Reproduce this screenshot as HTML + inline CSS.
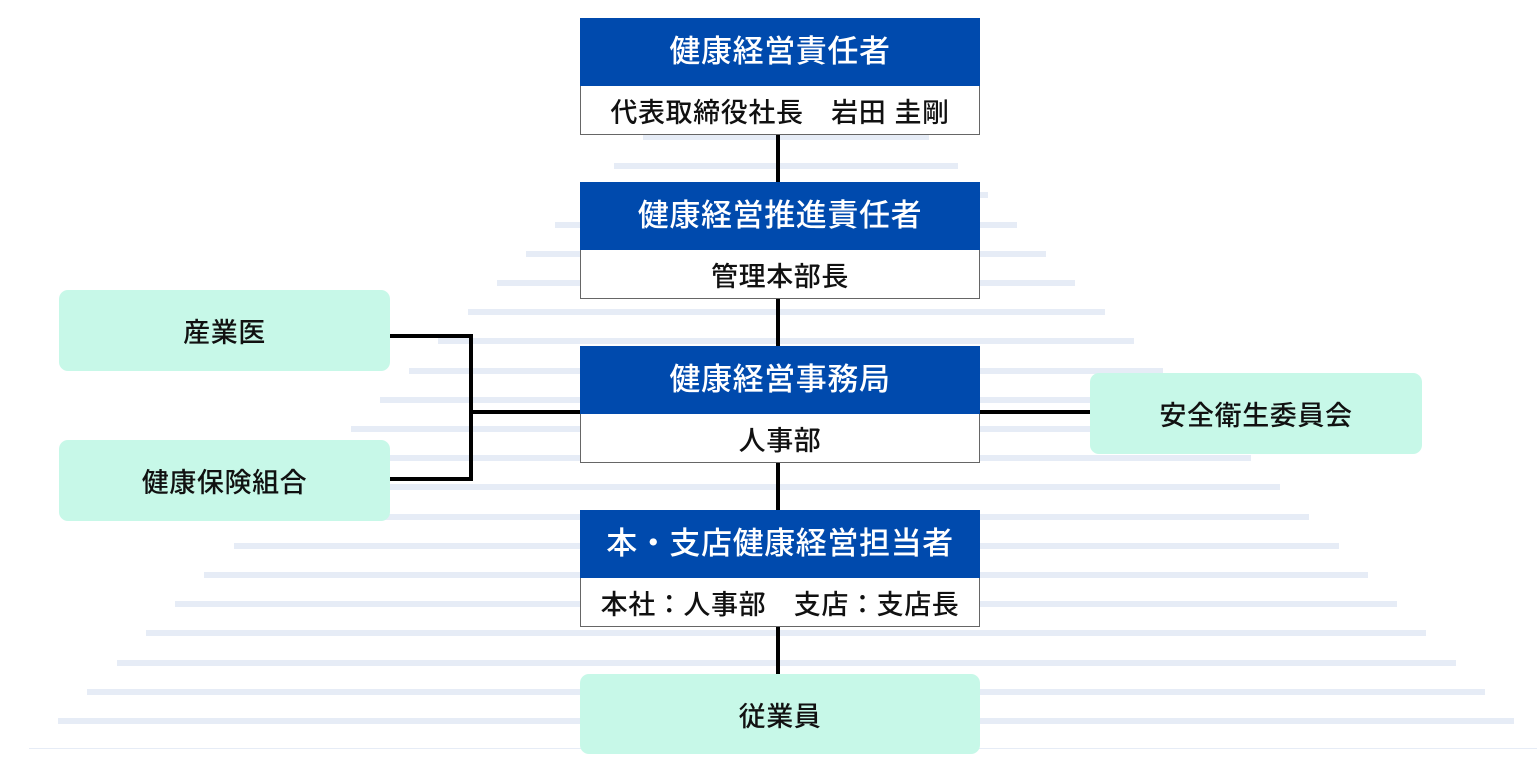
<!DOCTYPE html>
<html><head><meta charset="utf-8"><style>
body{margin:0;width:1537px;height:770px;background:#fff;position:relative;overflow:hidden;font-family:"Liberation Sans","Noto Sans CJK JP",sans-serif;}
.s{position:absolute;height:6px;background:#e6ecf6;}
.box{position:absolute;left:580px;width:400px;}
.h{height:68px;box-sizing:border-box;padding-bottom:8px;background:#004aad;color:#fff;font-size:31px;letter-spacing:0.6px;font-weight:500;display:flex;align-items:center;justify-content:center;white-space:nowrap;}
.b{background:#fff;border:1px solid #666;border-top:none;box-sizing:border-box;height:49px;color:#111;font-size:27px;letter-spacing:0.6px;font-weight:500;display:flex;align-items:center;justify-content:center;white-space:nowrap;}
.g{position:absolute;background:#c7f8e8;border-radius:9px;color:#111;font-size:27px;letter-spacing:0.6px;font-weight:500;display:flex;align-items:center;justify-content:center;}
.l{position:absolute;background:#000;}
</style></head><body>
<div id="st"></div>
<script>
var h='';for(var i=0;i<=20;i++){var y=137+i*29.2,hw=143+i*29.25;h+='<div class="s" style="top:'+(y-3).toFixed(1)+'px;left:'+(786-hw).toFixed(1)+'px;width:'+(2*hw).toFixed(1)+'px"></div>';}
document.getElementById('st').innerHTML=h;
</script>
<div style="position:absolute;left:29px;width:1508px;top:748px;height:1px;background:#e6ecf6"></div>
<div class="l" style="left:776px;top:135px;width:4px;height:540px"></div>
<div class="l" style="left:389px;top:334px;width:84px;height:4px"></div>
<div class="l" style="left:389px;top:477px;width:84px;height:4px"></div>
<div class="l" style="left:469px;top:334px;width:4px;height:147px"></div>
<div class="l" style="left:469px;top:410px;width:111px;height:4px"></div>
<div class="l" style="left:979px;top:410px;width:112px;height:4px"></div>
<div class="box" style="top:18px"><div class="h">健康経営責任者</div><div class="b">代表取締役社長　岩田 圭剛</div></div>
<div class="box" style="top:182px"><div class="h">健康経営推進責任者</div><div class="b">管理本部長</div></div>
<div class="box" style="top:346px"><div class="h">健康経営事務局</div><div class="b">人事部</div></div>
<div class="box" style="top:510px"><div class="h">本・支店健康経営担当者</div><div class="b">本社：人事部　支店：支店長</div></div>
<div class="g" style="left:580px;top:674px;width:400px;height:80px">従業員</div>
<div class="g" style="left:59px;top:290px;width:331px;height:81px">産業医</div>
<div class="g" style="left:59px;top:440px;width:331px;height:81px">健康保険組合</div>
<div class="g" style="left:1090px;top:373px;width:332px;height:81px">安全衛生委員会</div>
</body></html>
